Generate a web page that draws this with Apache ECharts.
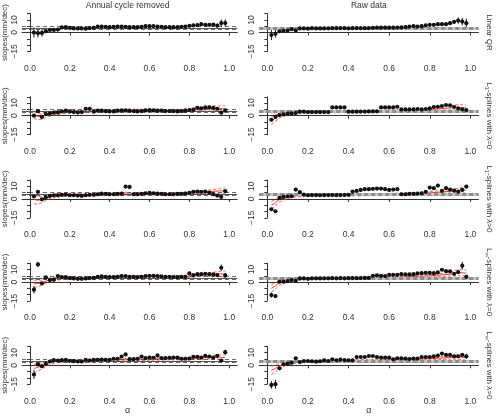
<!DOCTYPE html>
<html>
<head>
<meta charset="utf-8">
<script src="https://cdn.jsdelivr.net/npm/echarts@6/dist/echarts.min.js"></script>
<style>html,body{margin:0;padding:0;background:#fff}#chart{width:496px;height:416px}</style>
</head>
<body>
<div id="chart"></div>
<script>
// quantile levels
var alpha = [0.02,0.04,0.06,0.08,0.10,0.12,0.14,0.16,0.18,0.20,0.22,0.24,0.26,0.28,0.30,0.32,0.34,0.36,0.38,0.40,
             0.42,0.44,0.46,0.48,0.50,0.52,0.54,0.56,0.58,0.60,0.62,0.64,0.66,0.68,0.70,0.72,0.74,0.76,0.78,0.80,
             0.82,0.84,0.86,0.88,0.90,0.92,0.94,0.96,0.98];
var xTicks = [0, 0.2, 0.4, 0.6, 0.8, 1.0];
var yLabelled = [10, 0, -15];
var refLevel = 3.3;
var refBand = [2.6, 5.0];

var colTitles = ['Annual cycle removed', 'Raw data'];
// [main, subscript, rest]
var rowTitles = [['Linear QR', '', ''], ['L', '1', '-splines with λ=0'], ['L', '1', '-splines with λ>0'],
                 ['L', '∞', '-splines with λ=0'], ['L', '∞', '-splines with λ>0']];

// slopes (mm/dec), L = annual cycle removed, R = raw data
var p1L = [0,-0.5,-0.3,1,2,2,2.3,4,4.3,3.7,3.2,3.2,3.2,3,3.5,3.7,4.7,4.7,4.5,4.2,4.5,4.7,4.7,4.5,4.2,4.2,4.2,4.5,5,5,5,4.7,4.5,4.2,4.2,4.2,4.2,4.5,4.7,5.3,5.6,5.8,6.6,6.1,6.1,6.3,5.5,7.5,7.5];
var p1R = [-2,-1,1,1.3,1.6,2.6,1.6,3.2,3.2,3,3.4,3.2,3.2,3.2,3.3,3.4,3.4,3.5,3.4,3.3,3.4,3.5,3.4,3.4,3.5,3.7,3.8,3.8,3.8,3.8,3.8,3.9,4,4.2,4.7,5,4.7,5,5.6,6.1,6.1,6.6,6.6,6.6,7.4,8.5,9.5,8.7,7.4];
var p2L = [0,3.7,-1,1.3,1.8,2.4,2.6,3.4,4,3.4,2.9,2.6,2.9,5.5,5.5,3.2,4,4,3.7,3.4,3.4,4,4.2,4.2,4,3.7,3.4,3.7,4.2,4.5,4.2,4,4,3.7,3.7,3.7,3.4,3.7,4,4.5,4.8,6.3,5.8,6.6,6.6,6.3,5.5,2.4,4.2];
var p2R = [-3.2,-1,0.5,1,1.6,1.8,2.1,3.2,3.2,2.9,2.9,2.9,2.9,2.9,2.9,6.6,6.6,6.6,6.6,3.2,3.2,3.2,3.3,3.3,3.4,3.4,3.5,6.6,6.6,6.6,6.6,7.1,5,5,5,5,5.3,5,5.3,5.8,6.9,7.1,7.7,8.5,8.2,6.9,5.8,5,4.5];
var p3L = [1.9,5.6,-0.3,1.3,2.4,2.9,2.9,3.2,3.4,2.9,2.9,2.6,2.4,2.9,3.2,3.2,3.7,4.2,4,3.7,3.7,4,4.2,9.8,9.5,3.7,3.7,4,4.5,4.8,4.5,4.2,4,3.7,3.7,3.7,4,4,4.2,4.8,5.6,5.8,5.6,5.8,5,3.7,2.6,1.6,6.1];
var p3R = [-8.2,-9.8,0.8,1.6,1.9,2.1,7.4,5.3,3.4,2.9,3,3,2.9,3,3,3.1,3,3,3.1,3.2,5.8,6.3,7.1,7.7,7.7,8,8.2,8.2,7.7,7.1,7.4,7.7,3.7,3.7,4,4,4.2,4.5,5.6,9,8.5,10.6,6.3,8.5,7.4,6.6,5.8,7.1,9.8];
var p4L = [-6,14,-1,3.7,1.6,1.9,4.8,4,4,3.2,2.9,2.6,2.6,2.9,3.2,3.4,4.2,4.5,4.2,4,4,4.2,4.8,4.8,4.2,4.2,4,4.2,4.8,5,5,4.8,4.5,4.2,4.2,4,4,4.2,4.2,6.9,5.6,6.3,6.3,6.6,6.3,6.1,5.6,11.4,5.3];
var p4R = [-10.3,-11.1,0.3,0.3,0.8,1.6,1,2.9,2.9,2.6,2.9,3,2.9,3,3,3.1,3,3.1,3,3.1,3.2,3.1,3.2,3.3,3.3,5,5.3,5,4.8,5.8,5.8,5.8,6.3,6.1,6.1,6.3,6.9,7.1,7.4,7.4,7.1,7.7,9.8,8.7,8.5,6.6,7.9,13,4.2];
var p5L = [-7.3,0.7,-0.7,1.2,3,4.1,3.8,4.1,4.4,3.6,3.3,3,3,4.4,3.8,4.4,4.4,4.6,4.4,4.4,5.2,5.2,7,8.6,4.9,4.9,5.2,7,5.7,6.2,6,7.8,5.7,5.7,6,6.2,6.2,5.2,5.2,5.4,6.7,6.7,6.2,7.5,7,6.2,7.5,3.8,10.4];
var p5R = [-15.6,-15,-2.4,0.8,1.3,2.1,5.6,2.6,3.4,3.4,3.2,2.9,3.2,4,3.4,4.8,4,4.5,4.2,4,4,6.6,6.6,6.6,7.4,7.4,6.6,6.1,6.1,6.1,4.8,5.6,5.6,5.3,5,5.3,5.3,6.6,6.6,6.6,7.1,7.7,9.3,8.2,8.2,7.1,7.1,8.2,7.1];

// visible error bars: [alpha, half width]
var e1L = [[0.02,4],[0.04,3.5],[0.06,3],[0.08,1.5],[0.10,1.5],[0.12,1.2],[0.14,1.2],[0.94,1.5],[0.96,2.8],[0.98,2.8]];
var e1R = [[0.02,4],[0.04,3],[0.06,1.5],[0.08,1.2],[0.14,1.5],[0.90,1.5],[0.92,1.5],[0.94,2.5],[0.96,3],[0.98,3.5]];
var e4L = [[0.02,3],[0.04,2],[0.06,1],[0.96,2.5],[0.98,2]];
var e4R = [[0.02,2],[0.04,1.2],[0.96,3],[0.98,1.5]];
var e5L = [[0.02,3.5],[0.98,2]];
var e5R = [[0.02,3],[0.04,3.5],[0.06,1],[0.98,2]];

// spline fits (solid) and bands (dashed)
var redX = [0.02,0.04,0.06,0.08,0.10,0.14,0.20,0.30,0.40,0.50,0.60,0.70,0.80,0.85,0.90,0.95,0.98];
var f2L = [0.5,-0.5,-0.8,0.5,1.5,2.5,3.3,3.5,3.8,4.0,4.2,3.9,4.5,5.5,6.0,5.8,5.2];
var lo2L = [-2.0,-3.0,-3.0,-1.5,-0.3,1.0,2.1,2.5,2.8,3.0,3.2,2.9,3.5,4.3,4.5,3.8,2.7];
var hi2L = [3.0,2.0,1.4,2.5,3.3,4.0,4.5,4.5,4.8,5.0,5.2,4.9,5.5,6.7,7.5,7.8,7.7];
var f2R = [-4,-2,0,1,1.8,2.5,3,3.1,3.2,3.3,3.6,4,4.8,5.5,6.2,6.5,6];
var lo2R = [-7,-4.5,-1.8,-0.5,0.5,1.5,2.2,2.3,2.4,2.5,2.8,3.1,3.8,4.3,4.6,4.2,3.5];
var hi2R = [-1,0.5,1.8,2.5,3.1,3.5,3.8,3.9,4,4.1,4.4,4.9,5.8,6.8,8,8.8,8.5];
var f3L = [-0.5,-1,-0.5,0.8,1.8,2.7,3.3,3.4,3.8,4,4.2,3.9,4.5,5.3,5.8,6.3,6.5];
var lo3L = [-4,-4,-3,-1.2,0.2,1.4,2.2,2.4,2.8,3,3.2,2.9,3.5,4.2,4.5,4.5,4];
var hi3L = [3,2,2,2.8,3.4,4,4.4,4.4,4.8,5,5.2,4.9,5.5,6.4,7.1,8,8.8];
var f3R = [-5,-3,-0.5,0.8,1.6,2.5,3,3.1,3.2,3.4,3.6,4,4.8,5.4,6,6.8,7];
var lo3R = [-8,-5.5,-2.5,-0.8,0.3,1.5,2.2,2.3,2.4,2.6,2.8,3.1,3.8,4.3,4.7,4.8,4.5];
var hi3R = [-2,-0.5,1.5,2.4,2.9,3.5,3.8,3.9,4,4.2,4.4,4.9,5.8,6.6,7.5,8.8,9.5];
var f4L = [-1.5,-1,-0.5,0.8,1.8,2.8,3.3,3.3,3.9,4.2,4.4,4.1,4.6,5.4,6,6.5,6.3];
var lo4L = [-4.5,-3.5,-2.5,-0.8,0.4,1.6,2.3,2.4,3,3.3,3.5,3.2,3.7,4.4,4.7,4.5,3.8];
var hi4L = [1.5,1.5,1.5,2.4,3.2,4,4.3,4.2,4.8,5.1,5.3,5,5.5,6.4,7.3,8.5,8.8];
var f4R = [-5,-3,-0.5,0.5,1.3,2.3,2.9,3,3.1,3.3,3.8,4.3,5,5.6,6.3,7.5,7];
var lo4R = [-8,-5.5,-2.5,-1,0,1.3,2.1,2.2,2.3,2.5,3,3.4,4,4.4,4.8,5,4.5];
var hi4R = [-2,-0.5,1.5,2,2.6,3.3,3.7,3.8,3.9,4.1,4.6,5.2,6,6.8,7.8,10,9.5];
var f5L = [-2.5,-1.5,-0.5,1,2.2,3.2,3.6,3.8,4.2,4.5,5,5.2,5.4,5.8,6.3,6.5,6];
var lo5L = [-6,-4.5,-2.8,-1,0.6,2,2.6,2.8,3.2,3.5,4,4.2,4.4,4.7,5,4.8,4];
var hi5L = [1,1.5,1.8,3,3.8,4.4,4.6,4.8,5.2,5.5,6,6.2,6.4,6.9,7.6,8.2,8];
var f5R = [-4,-2.5,-0.5,0.8,1.8,2.6,3,3.3,3.6,3.9,4.3,4.6,5.2,5.7,6.2,6.5,6];
var lo5R = [-7.5,-5,-2.5,-0.8,0.4,1.6,2.2,2.5,2.8,3.1,3.5,3.8,4.3,4.6,4.9,4.6,4];
var hi5R = [-0.5,0,1.5,2.4,3.2,3.6,3.8,4.1,4.4,4.7,5.1,5.4,6.1,6.8,7.5,8.4,8];

var panels = [
  {pts: p1L, err: e1L}, {pts: p1R, err: e1R},
  {pts: p2L, fit: [f2L, lo2L, hi2L]}, {pts: p2R, fit: [f2R, lo2R, hi2R]},
  {pts: p3L, fit: [f3L, lo3L, hi3L]}, {pts: p3R, fit: [f3R, lo3R, hi3R]},
  {pts: p4L, err: e4L, fit: [f4L, lo4L, hi4L]}, {pts: p4R, err: e4R, fit: [f4R, lo4R, hi4R]},
  {pts: p5L, err: e5L, fit: [f5L, lo5L, hi5L]}, {pts: p5R, err: e5R, fit: [f5R, lo5R, hi5R]}
];

var FONT = "'Liberation Sans', Arial, Helvetica, sans-serif";
var INK = '#333';
var RED = '#e8392b';
var colLeft = [17.9, 259.2], gridW = 219.3;
function zeroY(r) { return 32.5 + 83.2 * r; }

var grids = [], xAxes = [], yAxes = [], series = [], graphics = [];

panels.forEach(function (p, k) {
  var r = Math.floor(k / 2), c = k % 2;
  grids.push({left: colLeft[c], top: zeroY(r) - 18.9, width: gridW, height: 37.8});
  xAxes.push({
    type: 'value', gridIndex: k, min: -0.04, max: 1.04, position: 'bottom', offset: 9.6,
    axisLine: {lineStyle: {color: INK, width: 1}},
    axisTick: {customValues: xTicks, length: 3, lineStyle: {color: INK}},
    axisLabel: {customValues: xTicks, formatter: function (v) { return v.toFixed(1); },
      fontSize: 8.5, color: INK, fontFamily: FONT, margin: 3},
    splitLine: {show: false}
  });
  yAxes.push({
    type: 'value', gridIndex: k, min: -15, max: 15, interval: 5,
    name: c === 0 ? 'slopes(mm/dec)' : '', nameLocation: 'middle', nameGap: 13,
    nameTextStyle: {fontSize: 8, color: INK, fontFamily: FONT},
    axisLine: {show: true, lineStyle: {color: INK, width: 1}},
    axisTick: {show: true, length: 3, lineStyle: {color: INK}},
    axisLabel: {rotate: 90, fontSize: 8.5, color: INK, fontFamily: FONT, margin: 3,
      formatter: function (v) {
        if (yLabelled.indexOf(v) < 0) return '';
        return v < 0 ? '\u2212' + Math.abs(v) : String(v);
      }},
    splitLine: {show: false}
  });

  var refLines = c === 0 ? [
    {yAxis: refLevel, lineStyle: {color: '#555', width: 1, type: 'solid'}},
    {yAxis: refBand[0], lineStyle: {color: '#444', width: 0.8, type: [4, 3]}},
    {yAxis: refBand[1], lineStyle: {color: '#444', width: 0.8, type: [4, 3]}}
  ] : [
    {yAxis: refLevel, lineStyle: {color: '#c4c4c4', width: 3, type: 'solid'}},
    {yAxis: refLevel, lineStyle: {color: '#8c8c8c', width: 3, type: [4, 3]}}
  ];

  series.push({
    type: 'scatter', xAxisIndex: k, yAxisIndex: k, z: 5, clip: false,
    data: p.pts.map(function (v, i) { return [alpha[i], v]; }),
    symbolSize: 4.2, itemStyle: {color: '#111', opacity: 1},
    markLine: {silent: true, symbol: 'none', label: {show: false}, animation: false,
      emphasis: {disabled: true}, data: refLines}
  });

  if (p.fit) {
    p.fit.forEach(function (arr, j) {
      series.push({
        type: 'line', xAxisIndex: k, yAxisIndex: k, z: 3, smooth: 0.3, showSymbol: false,
        data: arr.map(function (v, i) { return [redX[i], v]; }),
        lineStyle: {color: RED, width: j === 0 ? 1 : 0.8, type: j === 0 ? 'solid' : [3, 2]}
      });
    });
  }

  if (p.err) {
    series.push({
      type: 'custom', xAxisIndex: k, yAxisIndex: k, z: 4,
      data: p.err.map(function (e) { return [e[0], p.pts[Math.round(e[0] * 50) - 1], e[1]]; }),
      renderItem: function (params, api) {
        var x = api.value(0), y = api.value(1), e = api.value(2);
        var a = api.coord([x, y - e]), b = api.coord([x, y + e]);
        return {type: 'line', shape: {x1: a[0], y1: a[1], x2: b[0], y2: b[1]},
          style: {stroke: '#111', lineWidth: 1}};
      }
    });
  }
});

// column titles, x labels, row labels
colTitles.forEach(function (t, c) {
  var cx = colLeft[c] + gridW / 2;
  graphics.push({type: 'text', x: cx, y: 6, style: {text: t, textAlign: 'center', textVerticalAlign: 'middle',
    font: '8.5px ' + FONT, fill: INK}});
  graphics.push({type: 'text', x: cx, y: 411, style: {text: 'α', textAlign: 'center', textVerticalAlign: 'middle',
    font: '9px ' + FONT, fill: INK}});
});
rowTitles.forEach(function (t, r) {
  var txt = t[1] ? '{n|' + t[0] + '}{s|' + t[1] + '}{n|' + t[2] + '}' : '{n|' + t[0] + '}';
  graphics.push({type: 'text', x: 489, y: zeroY(r), rotation: -Math.PI / 2,
    style: {text: txt, textAlign: 'center', textVerticalAlign: 'middle',
      rich: {
        n: {fontSize: 8, fontFamily: FONT, fill: INK, lineHeight: 11, verticalAlign: 'middle'},
        s: {fontSize: 6, fontFamily: FONT, fill: INK, lineHeight: 11, verticalAlign: 'bottom'}
      }}});
});

var myChart = echarts.init(document.getElementById('chart'));
myChart.setOption({
  animation: false,
  grid: grids,
  xAxis: xAxes,
  yAxis: yAxes,
  series: series,
  graphic: graphics
});
</script>
</body>
</html>
